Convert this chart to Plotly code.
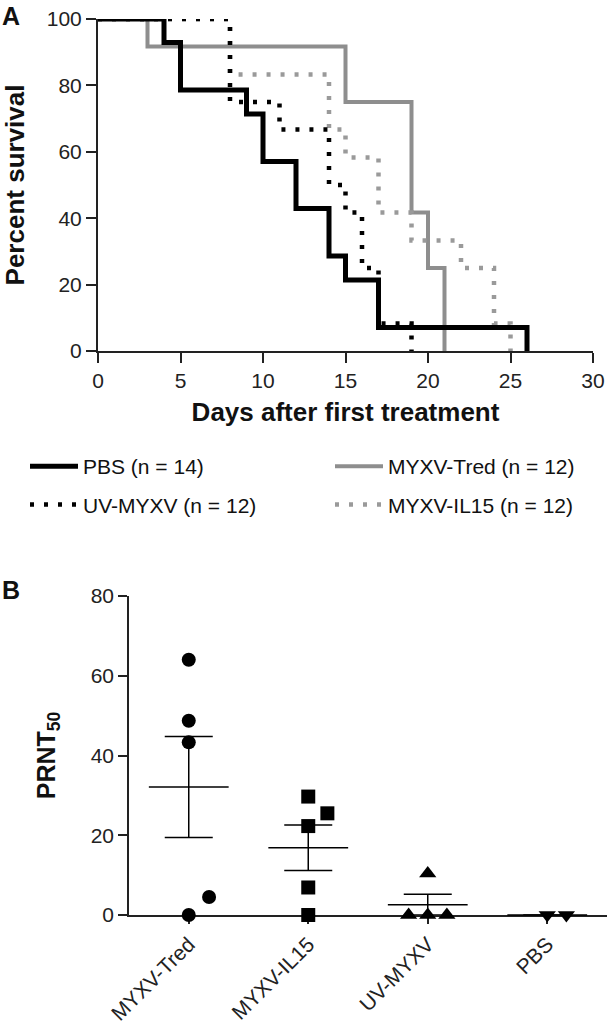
import numpy as np
import plotly.graph_objects as go

# ---------------- Data: panel A (Kaplan-Meier survival) ----------------
pbs_days = [0, 4, 5, 9, 10, 12, 14, 15, 17, 26]
pbs_surv = [100, 92.9, 78.6, 71.4, 57.1, 42.9, 28.6, 21.4, 7.1, 0]

tred_days = [0, 3, 15, 19, 20, 21]
tred_surv = [100, 91.7, 75, 41.7, 25, 0]

uv_days = [0, 8, 11, 14, 15, 16, 17, 19]
uv_surv = [100, 75, 66.7, 50, 41.7, 25, 8.3, 0]

il15_days = [0, 8, 14, 15, 17, 19, 22, 24, 25]
il15_surv = [100, 83.3, 66.7, 58.3, 41.7, 33.3, 25, 8.3, 0]

legend_names = ["PBS (n = 14)", "MYXV-Tred (n = 12)", "UV-MYXV (n = 12)", "MYXV-IL15 (n = 12)"]

x_ticks_a = [0, 5, 10, 15, 20, 25, 30]
y_ticks_a = [0, 20, 40, 60, 80, 100]

# ---------------- Data: panel B (PRNT50) ----------------
groups_b = ["MYXV-Tred", "MYXV-IL15", "UV-MYXV", "PBS"]
tred_prnt = [64.0, 48.7, 43.3, 4.5, 0.0]
il15_prnt = [29.7, 25.5, 22.3, 6.9, 0.0]
uv_prnt = [10.4, 0.0, 0.0, 0.0]
pbs_prnt = [0.0, 0.0]
y_ticks_b = [0, 20, 40, 60, 80]

# horizontal scatter offsets (layout, not data)
tred_off = [0, 0, 0, 0.17, 0]
il15_off = [0, 0.16, 0, 0, 0]
uv_off = [0, -0.16, 0, 0.16]
pbs_off = [0, 0.16]

# ---------------- Layout helpers ----------------
W, H = 608, 1022
FONT = "Liberation Sans, Arial, sans-serif"
AX = "#222222"


def fx(p):
    return p / W


def fy(p):
    return 1 - p / H


fig = go.Figure()

# Panel A traces (draw order: Tred, IL15, UV, PBS)
curves = [
    (tred_days, tred_surv, legend_names[1], dict(color="#8e8e8e", width=4), "legend2", 1),
    (il15_days, il15_surv, legend_names[3], dict(color="#9a9a9a", width=4.5, dash="4px,10px"), "legend2", 2),
    (uv_days, uv_surv, legend_names[2], dict(color="#000000", width=4.5, dash="4px,10px"), "legend", 2),
    (pbs_days, pbs_surv, legend_names[0], dict(color="#000000", width=5), "legend", 1),
]
for d, s, name, line, leg, rank in curves:
    fig.add_trace(go.Scatter(
        x=d, y=s, mode="lines", line=dict(shape="hv", **line), name=name,
        legend=leg, legendgroup=name, legendrank=rank, cliponaxis=False,
        xaxis="x", yaxis="y", hoverinfo="skip",
    ))

# Panel B traces
sets_b = [
    (tred_prnt, tred_off, "circle", 14),
    (il15_prnt, il15_off, "square", 14),
    (uv_prnt, uv_off, "triangle-up", 15),
    (pbs_prnt, pbs_off, "triangle-down", 15),
]
for i, (vals, off, sym, size) in enumerate(sets_b):
    v = np.array(vals, dtype=float)
    fig.add_trace(go.Scatter(
        x=[i + o for o in off], y=vals, mode="markers",
        marker=dict(symbol=sym, size=size, color="black"),
        showlegend=False, cliponaxis=False, xaxis="x2", yaxis="y2",
    ))
    mean = v.mean()
    sem = v.std(ddof=1) / np.sqrt(len(v))
    fig.add_trace(go.Scatter(
        x=[i], y=[mean], mode="markers",
        marker=dict(symbol="line-ew", size=57, line=dict(color="black", width=1.5)),
        error_y=dict(type="data", array=[sem], color="black", thickness=1.5, width=24),
        showlegend=False, cliponaxis=False, xaxis="x2", yaxis="y2",
    ))

axis_common = dict(showline=True, linecolor=AX, ticks="outside", tickcolor=AX, automargin=False,
                   showgrid=False, zeroline=False, tickfont=dict(family=FONT, size=21, color="#222"))

fig.update_layout(
    width=W, height=H,
    margin=dict(l=0, r=0, t=0, b=0),
    paper_bgcolor="white", plot_bgcolor="white",
    font=dict(family=FONT, color="#111"),
    xaxis=dict(domain=[fx(98), fx(593)], range=[0, 30], tickvals=x_ticks_a,
               linewidth=2, ticklen=10, tickwidth=2, anchor="y", layer="below traces",
               title=dict(text="<b>Days after first treatment</b>", font=dict(family=FONT, size=26, color="#111"), standoff=12),
               **axis_common),
    yaxis=dict(domain=[fy(351), fy(19)], range=[0, 100], tickvals=y_ticks_a,
               linewidth=2, ticklen=10, tickwidth=2, anchor="x", layer="below traces",
               title=dict(text="<b>Percent survival</b>", font=dict(family=FONT, size=26, color="#111"), standoff=18),
               **axis_common),
    xaxis2=dict(domain=[fx(129), fx(607)], range=[-0.5, 3.5], tickvals=[0, 1, 2, 3], ticktext=groups_b,
                tickangle=-45, linewidth=1.5, ticklen=7, tickwidth=1.5, anchor="y2", layer="below traces",
                **axis_common),
    yaxis2=dict(domain=[fy(915), fy(596)], range=[0, 80], tickvals=y_ticks_b,
                linewidth=1.5, ticklen=9, tickwidth=1.5, anchor="x2", layer="below traces",
                title=dict(text="<b>PRNT<sub>50</sub></b>", font=dict(family=FONT, size=25, color="#111"), standoff=28),
                **axis_common),
    legend=dict(x=fx(25), y=fy(446), xanchor="left", yanchor="top", traceorder="grouped", itemwidth=48,
                tracegroupgap=8, font=dict(family=FONT, size=21, color="#111"), bgcolor="rgba(0,0,0,0)"),
    legend2=dict(x=fx(330), y=fy(446), xanchor="left", yanchor="top", traceorder="grouped", itemwidth=48,
                 tracegroupgap=8, font=dict(family=FONT, size=21, color="#111"), bgcolor="rgba(0,0,0,0)"),
    annotations=[
        dict(text="<b>A</b>", x=fx(0), y=fy(0), xref="paper", yref="paper", xanchor="left", yanchor="top",
             showarrow=False, font=dict(family=FONT, size=25, color="#111")),
        dict(text="<b>B</b>", x=fx(0), y=fy(574), xref="paper", yref="paper", xanchor="left", yanchor="top",
             showarrow=False, font=dict(family=FONT, size=25, color="#111")),
    ],
)

fig.write_html("out.html", config={"displayModeBar": False},
               post_script="document.body.style.margin='0';document.body.style.padding='0';")
